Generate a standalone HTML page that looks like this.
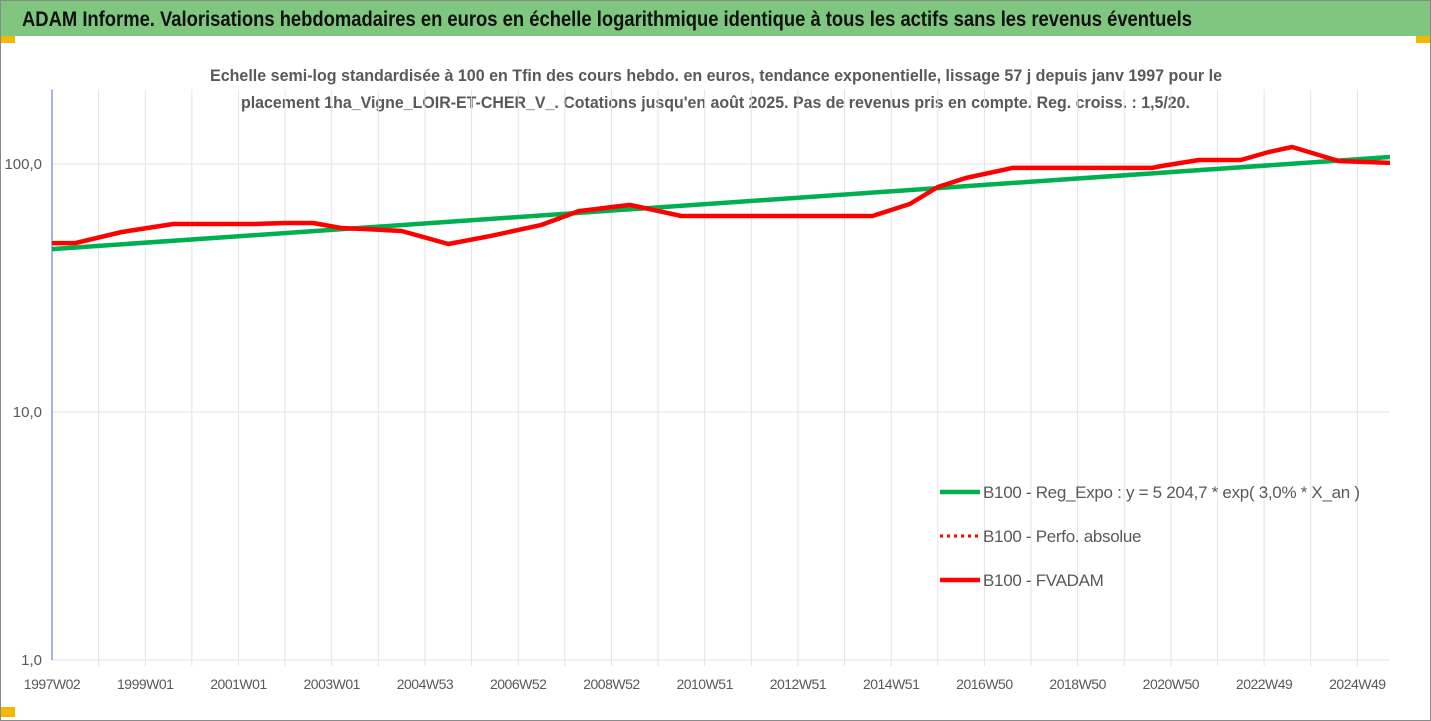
<!DOCTYPE html>
<html><head><meta charset="utf-8"><style>
html,body{margin:0;padding:0;background:#fff;}
body{width:1431px;height:721px;overflow:hidden;position:relative;font-family:"Liberation Sans",sans-serif;}
</style></head><body>
<div style="position:absolute;left:0;top:0;width:1429px;height:719px;border:1px solid #8a8a8a;"></div>
<div style="position:absolute;left:1px;top:1px;width:1429px;height:35px;background:#7fc77f;"></div>
<div style="position:absolute;left:1px;top:36px;width:14px;height:7px;background:#f5b800;"></div>
<div style="position:absolute;left:1416px;top:36px;width:14px;height:7px;background:#f5b800;"></div>
<div style="position:absolute;left:1px;top:707px;width:14px;height:10px;background:#f5b800;"></div>
<svg id="chart" width="1431" height="721" style="position:absolute;left:0;top:0;" font-family="Liberation Sans, sans-serif">
<text x="22" y="26" font-size="21" font-weight="bold" fill="#111" textLength="1170" lengthAdjust="spacingAndGlyphs">ADAM Informe. Valorisations hebdomadaires en euros en échelle logarithmique identique à tous les actifs sans les revenus éventuels</text>
<text x="210" y="81" font-size="16.5" font-weight="bold" fill="#595959" textLength="1012" lengthAdjust="spacingAndGlyphs">Echelle semi-log standardisée à 100 en Tfin des cours hebdo. en euros, tendance exponentielle, lissage 57 j depuis janv 1997 pour le</text>
<text x="241" y="108" font-size="16.5" font-weight="bold" fill="#595959" textLength="949" lengthAdjust="spacingAndGlyphs">placement 1ha_Vigne_LOIR-ET-CHER_V_. Cotations jusqu'en août 2025. Pas de revenus pris en compte. Reg. croiss. : 1,5/20.</text>
<g id="grid"></g><g id="axes"></g><g id="series"></g><g id="legend"></g>
</svg>
<script>
const yTicks=[1,10,100];
const yTickLabels=["1,0","10,0","100,0"];
const xLabelYears=[1997,1999,2001,2003,2005,2007,2009,2011,2013,2015,2017,2019,2021,2023,2025];
const xLabels=["1997W02","1999W01","2001W01","2003W01","2004W53","2006W52","2008W52","2010W51","2012W51","2014W51","2016W50","2018W50","2020W50","2022W49","2024W49"];
const fvYears=[1997.0,1997.5,1998.5,1999.6,2001.3,2002.0,2002.6,2003.2,2003.8,2004.5,2005.5,2006.4,2007.5,2008.3,2009.4,2009.8,2010.5,2012.2,2014.3,2014.6,2015.4,2016.0,2016.6,2017.6,2020.6,2020.8,2021.6,2022.5,2023.1,2023.6,2024.6,2025.7];
const fvValues=[48.0,48.0,53.2,57.3,57.3,57.8,57.8,55.2,54.6,53.7,47.6,51.2,56.8,64.6,68.4,65.9,61.7,61.7,61.7,61.7,69.0,80.8,87.8,96.4,96.4,98.2,103.8,103.8,111.8,117.1,102.8,101.0];
const regYears=[1997.0,2025.7];
const regValues=[45.4,106.7];

const X0=52,X1=1390,Y100=164,DEC=248,YEAR0=1997,YEARS=28.7;
const xs=y=>X0+(y-YEAR0)*(X1-X0)/YEARS;
const ys=v=>Y100-(Math.log10(v)-2)*DEC;
const NS="http://www.w3.org/2000/svg";
function mk(tag,attrs,parent){const e=document.createElementNS(NS,tag);for(const k in attrs)e.setAttribute(k,attrs[k]);parent.appendChild(e);return e;}
const grid=document.getElementById('grid'),axes=document.getElementById('axes'),series=document.getElementById('series'),legend=document.getElementById('legend');
const topY=ys(200);
for(let yr=1998;yr<=2025;yr++){
  const l=mk('line',{x1:xs(yr),x2:xs(yr),y1:topY,y2:ys(1)+6,stroke:'#e3e3e3','stroke-width':1},grid);
  
  
}
yTicks.forEach((t,i)=>{
  const l=mk('line',{x1:X0,x2:X1,y1:ys(t),y2:ys(t),stroke:'#e3e3e3','stroke-width':1},grid);
  
  
  const tx=mk('text',{x:42,y:ys(t)+5,'text-anchor':'end','font-size':15,fill:'#595959'},axes);
  tx.textContent=yTickLabels[i];
  
  
});
const ax=mk('line',{x1:X0,x2:X0,y1:topY,y2:ys(1),stroke:'#4472c4','stroke-width':1},axes);


xLabelYears.forEach((yr,i)=>{
  const tx=mk('text',{x:xs(yr),y:689,'text-anchor':'middle','font-size':14,fill:'#595959','letter-spacing':'-0.5'},axes);
  tx.textContent=xLabels[i];
  
  
});
function path(yrs,vals){return yrs.map((y,i)=>(i?'L':'M')+xs(y).toFixed(1)+','+ys(vals[i]).toFixed(1)).join(' ');}
const g=mk('path',{d:path(regYears,regValues),fill:'none',stroke:'#00b050','stroke-width':4.5},series);


const r=mk('path',{d:path(fvYears,fvValues),fill:'none',stroke:'#ff0000','stroke-width':4.5,'stroke-linejoin':'round'},series);


const items=[["B100 - Reg_Expo : y = 5 204,7 * exp( 3,0% *  X_an )",'#00b050',null,492,'legend-reg-expo'],["B100 - Perfo. absolue",'#ff0000','3 4',536,'legend-perfo-absolue'],["B100 - FVADAM",'#ff0000',null,580,'legend-fvadam']];
items.forEach(it=>{
  const gi=mk('g',{},legend);
  
  
  const a={x1:940,x2:980,y1:it[3],y2:it[3],stroke:it[1],'stroke-width':it[2]?3:4.5};
  if(it[2])a['stroke-dasharray']=it[2];
  mk('line',a,gi);
  const t=mk('text',{x:983,y:it[3]+6,'font-size':17,fill:'#595959','letter-spacing':'-0.3'},gi);
  t.textContent=it[0];
});
</script>
</body></html>
